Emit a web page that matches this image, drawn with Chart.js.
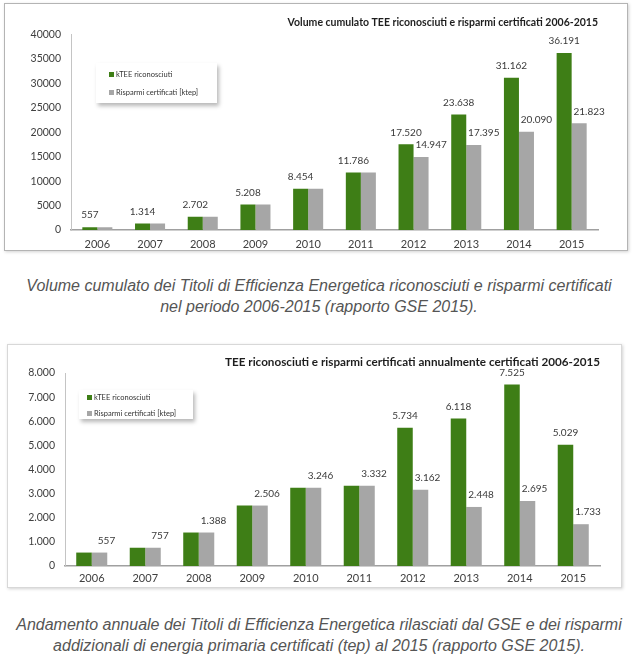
<!DOCTYPE html>
<html lang="it">
<head>
<meta charset="utf-8">
<title>TEE riconosciuti e risparmi certificati 2006-2015</title>
<script src="https://cdn.jsdelivr.net/npm/chart.js@4.4.1/dist/chart.umd.min.js"></script>
<style>
  html, body { margin: 0; padding: 0; background: #fff; }
  body { position: relative; width: 638px; height: 665px; overflow: hidden; font-family: Lato, sans-serif; }
  .frame { position: absolute; box-sizing: border-box; border: 1px solid #b4b4b4; background: #fff; box-shadow: 1px 1px 3px rgba(0,0,0,0.18); }
  #frameCum { left: 4px; top: 3px; width: 624px; height: 248px; }
  #frameAnn { left: 7px; top: 344px; width: 615px; height: 244px; border-color: #d8d8d8; }
  .frame canvas { display: block; }
  .legend { position: absolute; box-sizing: border-box; background: #fff; box-shadow: 2px 3px 4px rgba(0,0,0,0.28); font: 7.5px Lato, sans-serif; color: #333; }
  .legend div { white-space: nowrap; }
  .legend span { display: inline-block; width: 5px; height: 5px; margin-right: 2px; }
  #legendCum { left: 91px; top: 59px; width: 121px; height: 40px; padding: 3px 0 0 13px; line-height: 18px; }
  #legendAnn { left: 71px; top: 45px; width: 114px; height: 29px; padding: 0 0 0 8px; line-height: 16px; }
  .caption { position: absolute; left: 0; width: 638px; margin: 0; text-align: center; font: italic 16px "Liberation Sans", Arial, sans-serif; line-height: 21px; color: #555; }
  #captionCum { top: 275px; }
  #captionAnn { top: 614px; }
</style>
</head>
<body>
<div class="frame" id="frameCum">
  <canvas id="chartCum" width="622" height="246"></canvas>
  <div class="legend" id="legendCum"></div>
</div>
<p class="caption" id="captionCum">Volume cumulato dei Titoli di Efficienza Energetica riconosciuti e risparmi certificati<br>nel periodo 2006-2015 (rapporto GSE 2015).</p>

<div class="frame" id="frameAnn">
  <canvas id="chartAnn" width="613" height="242"></canvas>
  <div class="legend" id="legendAnn"></div>
</div>
<p class="caption" id="captionAnn">Andamento annuale dei Titoli di Efficienza Energetica rilasciati dal GSE e dei risparmi<br>addizionali di energia primaria certificati (tep) al 2015 (rapporto GSE 2015).</p>

<script>
const years = ['2006', '2007', '2008', '2009', '2010', '2011', '2012', '2013', '2014', '2015'];
const seriesNames = ['kTEE riconosciuti', 'Risparmi certificati [ktep]'];
const seriesColors = ['#3e7e16', '#a6a6a6'];

// volume cumulato
const cumTee = [557, 1314, 2702, 5208, 8454, 11786, 17520, 23638, 31162, 36191];
const cumRisparmi = [557, 1314, 2702, 5208, 8454, 11786, 14947, 17395, 20090, 21823];
const cumTitle = 'Volume cumulato TEE riconosciuti e risparmi certificati 2006-2015';

// annuale
const annTee = [557, 757, 1388, 2506, 3246, 3332, 5734, 6118, 7525, 5029];
const annRisparmi = [557, 757, 1388, 2506, 3246, 3332, 3162, 2448, 2695, 1733];
const annTitle = 'TEE riconosciuti e risparmi certificati annualmente certificati 2006-2015';

function formatIt(value) {
  return String(value).replace(/\B(?=(\d{3})+(?!\d))/g, '.');
}

// etichette sopra le barre (quando i valori coincidono ne resta una sola)
const barLabels = {
  id: 'barLabels',
  afterDatasetsDraw(chart, args, opts) {
    const ctx = chart.ctx;
    const sets = chart.data.datasets;
    ctx.save();
    ctx.font = opts.font;
    ctx.fillStyle = opts.color;
    ctx.textAlign = 'center';
    ctx.textBaseline = 'middle';
    sets.forEach((ds, di) => {
      chart.getDatasetMeta(di).data.forEach((bar, i) => {
        if (ds.data[i] === sets[1 - di].data[i] && di === opts.hideOnTie) return;
        const dx = di === 1 ? opts.shift : 0;
        ctx.fillText(formatIt(ds.data[i]), bar.x + dx, bar.y - opts.gap);
      });
    });
    ctx.restore();
  }
};

function renderLegend(id, chart) {
  document.getElementById(id).innerHTML = chart.data.datasets.map(ds =>
    `<div><span style="background:${ds.backgroundColor}"></span>${ds.label}</div>`
  ).join('');
}

function makeChart(canvasId, legendId, tee, risparmi, o) {
  const chart = new Chart(document.getElementById(canvasId), {
    type: 'bar',
    data: {
      labels: years,
      datasets: [
        { label: seriesNames[0], data: tee, backgroundColor: seriesColors[0], borderWidth: 0,
          categoryPercentage: o.catPct, barPercentage: 1 },
        { label: seriesNames[1], data: risparmi, backgroundColor: seriesColors[1], borderWidth: 0,
          categoryPercentage: o.catPct, barPercentage: 1 }
      ]
    },
    options: {
      responsive: false,
      animation: false,
      events: [],
      layout: { padding: { left: 0, right: o.padRight, top: 0, bottom: 0 } },
      plugins: {
        legend: { display: false },
        tooltip: { enabled: false },
        title: {
          display: true,
          text: o.title,
          align: 'end',
          color: '#1e1e1e',
          font: { family: 'Lato', size: o.titleSize, weight: 'bold', lineHeight: 1.2 },
          padding: { top: o.titleTop, bottom: o.titleBottom }
        },
        barLabels: { font: '10px Lato', color: '#3a3a3a', gap: 12, shift: o.shift, hideOnTie: o.hideOnTie }
      },
      scales: {
        x: {
          grid: { display: false, drawTicks: false },
          border: { display: true, color: '#a0a0a0', width: 1.5 },
          ticks: { color: '#404040', font: { family: 'Lato', size: 11, lineHeight: 1 }, padding: o.xPad },
          afterFit: s => { s.height = o.xHeight; }
        },
        y: {
          min: 0,
          max: o.yMax,
          grid: { display: false, drawTicks: false },
          border: { display: true, color: '#c4c4c4', width: 1 },
          ticks: { stepSize: o.yStep, callback: o.tickFormat, color: '#404040',
                   font: { family: 'Lato', size: 10.5 }, padding: 10 },
          afterFit: s => { s.width = o.yWidth; }
        }
      }
    },
    plugins: [barLabels]
  });
  renderLegend(legendId, chart);
  return chart;
}

makeChart('chartCum', 'legendCum', cumTee, cumRisparmi, {
  title: cumTitle, titleSize: 10.5, yMax: 40000, yStep: 5000, tickFormat: v => String(v),
  catPct: 0.57, padRight: 29, yWidth: 66, xHeight: 20, xPad: 9,
  titleTop: 12.7, titleBottom: 5.2, shift: 10, hideOnTie: 1
});

makeChart('chartAnn', 'legendAnn', annTee, annRisparmi, {
  title: annTitle, titleSize: 11.7, yMax: 8000, yStep: 1000, tickFormat: v => formatIt(v),
  catPct: 0.58, padRight: 21, yWidth: 57, xHeight: 21, xPad: 7,
  titleTop: 10, titleBottom: 4, shift: 7, hideOnTie: 0
});
</script>
</body>
</html>
